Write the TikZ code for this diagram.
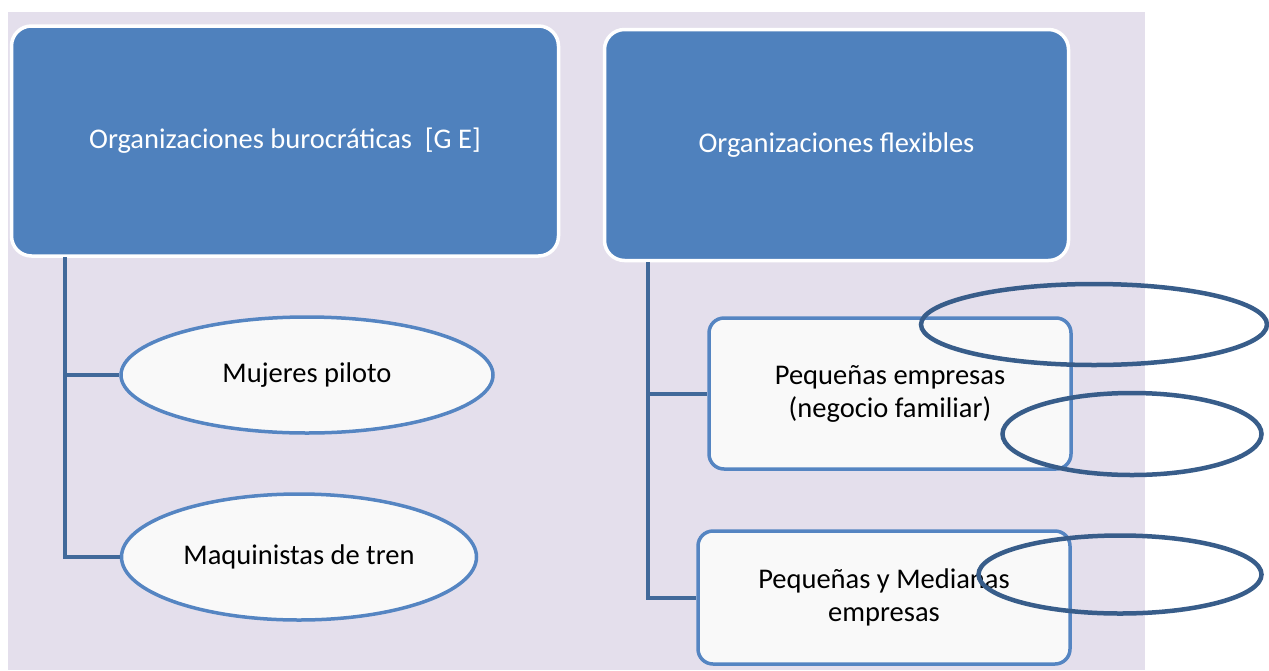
\documentclass[tikz,border=0pt]{standalone}
\usepackage{fontspec}
\setmainfont{Carlito}
\usetikzlibrary{shapes.geometric}
\definecolor{lavender}{HTML}{E4DFEC}
\definecolor{headblue}{HTML}{4F81BD}
\definecolor{edgeblue}{HTML}{5585C2}
\definecolor{trunkblue}{HTML}{41699A}
\definecolor{ringblue}{HTML}{385D8A}
\definecolor{paper}{HTML}{F9F9F9}
\tikzset{headbox/.style={rectangle,rounded corners=20pt,draw=white,line width=3.5pt,
		fill=headblue,text=white,align=center,inner sep=0pt},
	leafoval/.style={ellipse,draw=edgeblue,line width=3.5pt,fill=paper,inner sep=0pt},
	leafbox/.style={rectangle,rounded corners=15pt,draw=edgeblue,line width=3.5pt,
		fill=paper,align=center,inner sep=0pt},
	trunk/.style={draw=trunkblue,line width=4pt},
	ring/.style={ellipse,draw=ringblue,line width=4.5pt,inner sep=0pt}}

\begin{document}
\begin{tikzpicture}[x=1pt,y=-1pt,font=\fontsize{28.5}{33}\selectfont]
\useasboundingbox (0,0) rectangle (1269,670);
\fill[white] (0,0) rectangle (1269,670);
\fill[lavender] (8,12) rectangle (1145,670);
\node [headbox,minimum width=547pt,minimum height=230pt] (buro) at (285,141)
	{Organizaciones burocráticas\ \ [G E]};
\node [headbox,minimum width=464pt,minimum height=231pt] (flex) at (836.5,145)
	{Organizaciones flexibles};
\node [leafoval,minimum width=372pt,minimum height=116pt] (piloto) at (307,375) {Mujeres piloto};
\node [leafoval,minimum width=355pt,minimum height=126pt] (maquin) at (299,557) {Maquinistas de tren};
\node [leafbox,minimum width=362pt,minimum height=151pt] (pequenas) at (890,393.5)
	{Pequeñas empresas\\(negocio familiar)};
\node [leafbox,minimum width=372pt,minimum height=133pt] (pymes) at (884,597.5)
	{Pequeñas y Medianas\\empresas};
\coordinate (trunkL) at (65,257);
\coordinate (trunkR) at (648,262);
\draw [trunk] (trunkL) |- (piloto.west);
\draw [trunk] (trunkL) |- (maquin.west);
\draw [trunk] (trunkR) |- (pequenas.west);
\draw [trunk] (trunkR) |- (pymes.west);
\node [ring,minimum width=346pt,minimum height=81pt] (ringA) at (1094,324.5) {};
\node [ring,minimum width=259pt,minimum height=82pt] (ringB) at (1132,434) {};
\node [ring,minimum width=283pt,minimum height=78pt] (ringC) at (1120,574.5) {};
\end{tikzpicture}
\end{document}
